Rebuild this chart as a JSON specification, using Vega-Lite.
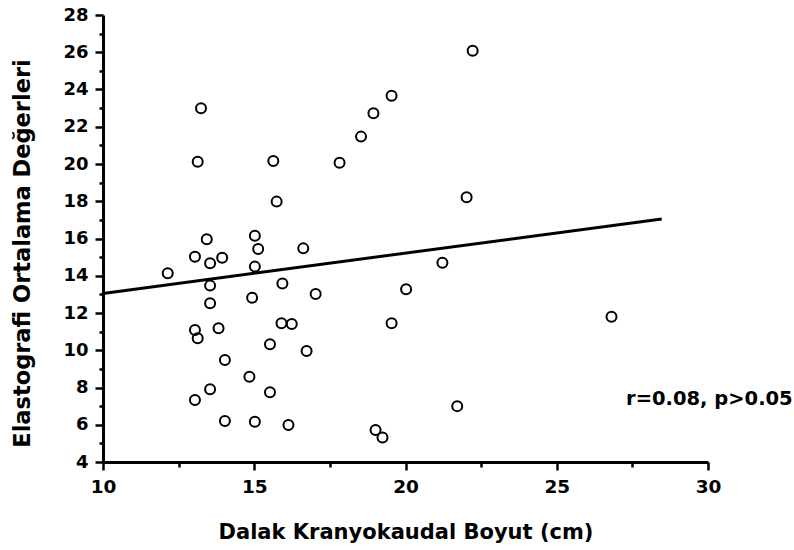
{
  "$schema": "https://vega.github.io/schema/vega-lite/v6.json",
  "autosize": "none",
  "width": 605,
  "height": 447,
  "padding": {"left": 103, "top": 15, "right": 86, "bottom": 88},
  "background": "white",
  "config": {
    "view": {"stroke": null},
    "axis": {
      "domainColor": "black", "domainWidth": 3, "tickColor": "black", "tickWidth": 2.5,
      "labelFont": "DejaVu Sans", "labelFontWeight": "bold", "labelColor": "black",
      "titleFont": "DejaVu Sans", "titleFontWeight": "bold", "titleColor": "black",
      "grid": false
    }
  },
  "datasets": {
    "pts": [
      {"x": 13.43, "y": 15.96}, {"x": 15.02, "y": 16.15}, {"x": 15.13, "y": 15.44}, {"x": 16.62, "y": 15.47},
      {"x": 13.04, "y": 15.02}, {"x": 13.94, "y": 14.97}, {"x": 13.54, "y": 14.67}, {"x": 12.14, "y": 14.13},
      {"x": 15.02, "y": 14.49}, {"x": 13.54, "y": 13.47}, {"x": 15.93, "y": 13.59}, {"x": 17.03, "y": 13.02},
      {"x": 20.02, "y": 13.27}, {"x": 13.54, "y": 12.52}, {"x": 14.93, "y": 12.82}, {"x": 13.04, "y": 11.09},
      {"x": 13.13, "y": 10.64}, {"x": 13.82, "y": 11.18}, {"x": 15.9, "y": 11.45}, {"x": 16.24, "y": 11.41},
      {"x": 19.54, "y": 11.45}, {"x": 15.52, "y": 10.32}, {"x": 16.73, "y": 9.96}, {"x": 14.03, "y": 9.48},
      {"x": 14.84, "y": 8.58}, {"x": 13.54, "y": 7.9}, {"x": 15.52, "y": 7.74}, {"x": 13.04, "y": 7.33},
      {"x": 14.03, "y": 6.2}, {"x": 15.02, "y": 6.16}, {"x": 16.13, "y": 5.99}, {"x": 19.01, "y": 5.72},
      {"x": 19.24, "y": 5.31}, {"x": 21.22, "y": 14.7}, {"x": 26.81, "y": 11.8}, {"x": 21.71, "y": 7.0},
      {"x": 13.24, "y": 22.99}, {"x": 13.13, "y": 20.12}, {"x": 15.63, "y": 20.16}, {"x": 17.82, "y": 20.07},
      {"x": 15.74, "y": 17.98}, {"x": 19.54, "y": 23.67}, {"x": 18.94, "y": 22.72}, {"x": 18.53, "y": 21.47},
      {"x": 22.22, "y": 26.08}, {"x": 22.02, "y": 18.21}
    ],
    "fit": [{"x": 10, "y": 13.05}, {"x": 28.47, "y": 17.05}],
    "note": [{"x": 32.8, "y": 7.36, "label": "r=0.08, p>0.05"}]
  },
  "layer": [
    {
      "data": {"name": "fit"},
      "mark": {"type": "line", "color": "black", "strokeWidth": 3},
      "encoding": {
        "x": {"field": "x", "type": "quantitative", "scale": {"domain": [10, 30], "nice": false, "zero": false},
          "axis": {"orient": "bottom", "values": [10, 15, 20, 25, 30], "tickSize": 8, "labelFlush": false,
            "title": "Dalak Kranyokaudal Boyut (cm)", "labelFontSize": 18.5, "labelPadding": 7, "titleFontSize": 21, "titlePadding": 26}},
        "y": {"field": "y", "type": "quantitative", "scale": {"domain": [4, 28], "nice": false, "zero": false},
          "axis": {"orient": "left", "values": [4, 6, 8, 10, 12, 14, 16, 18, 20, 22, 24, 26, 28], "tickSize": 8,
            "title": "Elastografi Ortalama Değerleri", "labelFontSize": 18, "labelPadding": 7, "titleFontSize": 22.5, "titlePadding": 28, "titleY": 238}}
      }
    },
    {
      "data": {"name": "pts"},
      "mark": {"type": "point", "shape": "circle", "filled": false, "stroke": "black", "strokeWidth": 2, "size": 100, "opacity": 1},
      "encoding": {
        "x": {"field": "x", "type": "quantitative",
          "axis": {"orient": "bottom", "values": [12.5, 17.5, 22.5, 27.5], "labels": false, "title": null, "tickSize": 5, "domain": false}},
        "y": {"field": "y", "type": "quantitative",
          "axis": {"orient": "left", "values": [5, 7, 9, 11, 13, 15, 17, 19, 21, 23, 25, 27], "labels": false, "title": null, "tickSize": 4, "domain": false}}
      }
    },
    {
      "data": {"name": "note"},
      "mark": {"type": "text", "align": "right", "baseline": "middle", "font": "DejaVu Sans", "fontWeight": "bold", "fontSize": 19.5, "color": "black"},
      "encoding": {
        "x": {"field": "x", "type": "quantitative", "axis": null},
        "y": {"field": "y", "type": "quantitative", "axis": null},
        "text": {"field": "label"}
      }
    }
  ],
  "resolve": {"axis": {"x": "independent", "y": "independent"}}
}
